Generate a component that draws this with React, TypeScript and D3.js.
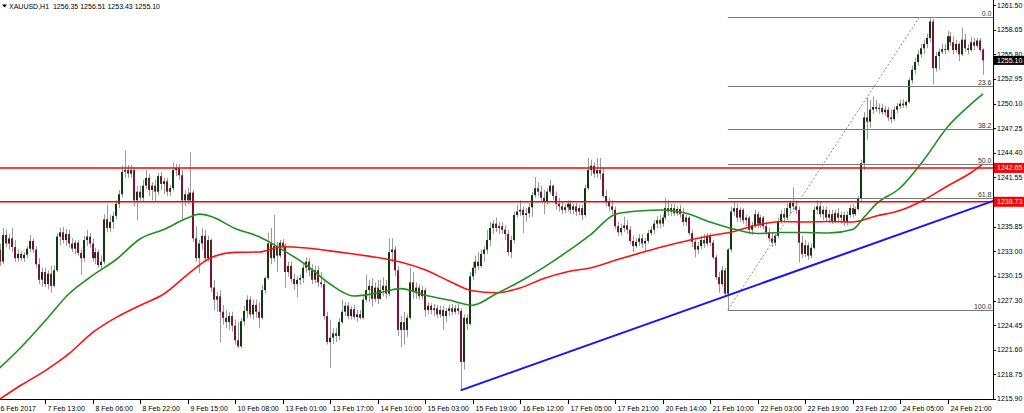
import { useEffect } from "react"
import * as d3 from "d3"

// XAUUSD H1, one label every 16 bars
const timeLabels = [
  "6 Feb 2017", "7 Feb 13:00", "8 Feb 06:00", "8 Feb 22:00", "9 Feb 15:00", "10 Feb 08:00",
  "13 Feb 01:00", "13 Feb 17:00", "14 Feb 10:00", "15 Feb 03:00", "15 Feb 19:00", "16 Feb 12:00",
  "17 Feb 05:00", "17 Feb 21:00", "20 Feb 14:00", "21 Feb 10:00", "22 Feb 03:00", "22 Feb 19:00",
  "23 Feb 12:00", "24 Feb 05:00", "24 Feb 21:00",
]

const priceTicks = [
  1215.9, 1218.75, 1221.6, 1224.45, 1227.3, 1230.15, 1233.0, 1235.85, 1238.7,
  1241.55, 1244.4, 1247.25, 1250.1, 1252.95, 1255.8, 1258.65, 1261.5,
]

// [open, high, low, close]
const candles: number[][] = [
  [1232.6,1233.7,1231.4,1233.2],[1233.2,1233.9,1231.3,1231.8],[1231.8,1235.7,1231.5,1234.9],[1234.9,1235.5,1233.5,1233.9],
  [1233.9,1235.0,1233.2,1234.5],[1234.5,1235.7,1232.9,1233.5],[1233.5,1234.3,1231.8,1232.2],[1232.2,1233.2,1231.8,1232.7],
  [1232.7,1233.0,1231.9,1232.2],[1232.2,1232.9,1231.8,1232.6],[1232.6,1233.6,1232.2,1233.3],[1233.3,1234.9,1232.9,1234.2],
  [1234.2,1234.5,1232.8,1233.2],[1233.2,1233.6,1231.1,1231.5],[1231.5,1232.2,1229.2,1229.7],[1229.7,1231.1,1228.9,1230.6],
  [1230.6,1231.1,1228.9,1229.2],[1229.2,1230.8,1228.6,1230.4],[1230.4,1231.3,1228.2,1229.0],[1229.0,1231.4,1228.8,1230.8],
  [1230.8,1235.1,1230.6,1234.7],[1234.7,1235.7,1233.7,1235.2],[1235.2,1235.8,1233.9,1234.3],[1234.3,1235.6,1233.6,1235.0],
  [1235.0,1235.5,1233.4,1233.9],[1233.9,1234.5,1232.9,1233.3],[1233.3,1234.3,1232.7,1234.0],[1234.0,1234.3,1232.5,1232.8],
  [1232.8,1233.2,1230.3,1232.2],[1232.2,1234.8,1231.8,1234.3],[1234.3,1235.5,1233.6,1234.7],[1234.7,1235.1,1233.4,1233.9],
  [1233.9,1234.5,1231.8,1232.2],[1232.2,1233.4,1231.5,1232.9],[1232.9,1233.2,1231.1,1231.4],[1231.4,1232.5,1230.8,1231.8],
  [1231.8,1237.3,1231.5,1236.7],[1236.7,1238.4,1235.2,1235.7],[1235.7,1237.2,1235.2,1236.4],[1236.4,1237.6,1235.6,1237.1],
  [1237.1,1238.9,1236.7,1238.5],[1238.5,1240.1,1238.0,1239.6],[1239.6,1242.9,1239.2,1242.2],[1242.2,1244.7,1241.5,1242.4],
  [1242.4,1243.0,1241.5,1242.0],[1242.0,1243.0,1241.5,1242.4],[1242.4,1242.6,1238.2,1238.9],[1238.9,1240.6,1236.6,1239.9],
  [1239.9,1240.6,1238.7,1239.2],[1239.2,1241.3,1238.8,1240.6],[1240.6,1242.4,1240.2,1241.5],[1241.5,1242.0,1239.4,1240.1],
  [1240.1,1241.0,1238.9,1240.6],[1240.6,1241.3,1238.7,1239.9],[1239.9,1242.1,1239.5,1241.7],[1241.7,1242.2,1240.1,1240.8],
  [1240.8,1241.5,1239.6,1241.1],[1241.1,1241.5,1239.4,1239.9],[1239.9,1240.7,1239.4,1240.3],[1240.3,1243.3,1240.0,1242.4],
  [1242.4,1243.1,1241.7,1242.6],[1242.6,1243.1,1241.3,1241.8],[1241.8,1242.4,1236.6,1238.9],[1238.9,1240.1,1238.2,1239.6],
  [1239.6,1240.4,1238.5,1238.9],[1238.9,1244.5,1238.6,1239.8],[1239.8,1240.1,1234.1,1234.5],[1234.5,1235.9,1231.8,1232.2],
  [1232.2,1234.3,1230.5,1233.9],[1233.9,1235.7,1233.2,1234.8],[1234.8,1235.5,1231.8,1232.2],[1232.2,1234.8,1231.8,1234.3],
  [1234.3,1234.5,1228.3,1228.8],[1228.8,1229.7,1226.2,1227.4],[1227.4,1228.3,1226.0,1227.8],[1227.8,1228.5,1222.4,1226.0],
  [1226.0,1226.8,1224.5,1225.3],[1225.3,1226.2,1224.1,1224.8],[1224.8,1226.0,1223.9,1225.5],[1225.5,1226.0,1223.7,1224.4],
  [1224.4,1225.1,1222.2,1222.7],[1222.7,1224.8,1221.8,1222.0],[1222.0,1225.3,1221.8,1224.9],[1224.9,1226.7,1224.4,1226.1],
  [1226.1,1227.9,1225.3,1227.4],[1227.4,1227.8,1225.3,1225.7],[1225.7,1227.4,1225.1,1226.8],[1226.8,1227.4,1225.3,1226.0],
  [1226.0,1227.1,1224.1,1225.3],[1225.3,1229.1,1225.1,1228.5],[1228.5,1230.1,1228.1,1229.9],[1229.9,1235.1,1229.7,1233.9],
  [1233.9,1235.7,1231.5,1232.2],[1232.2,1237.2,1231.8,1233.6],[1233.6,1234.1,1230.6,1232.5],[1232.5,1234.3,1232.2,1234.0],
  [1234.0,1234.4,1233.2,1233.6],[1233.6,1233.9,1228.8,1230.6],[1230.6,1231.8,1230.1,1231.3],[1231.3,1231.8,1229.4,1229.8],
  [1229.8,1230.4,1228.5,1229.2],[1229.2,1230.1,1227.7,1229.7],[1229.7,1230.3,1229.1,1229.9],[1229.9,1231.5,1229.3,1231.1],
  [1231.1,1232.3,1230.5,1231.8],[1231.8,1232.2,1230.1,1230.8],[1230.8,1231.5,1229.2,1229.7],[1229.7,1231.3,1229.3,1230.8],
  [1230.8,1231.3,1228.9,1229.4],[1229.4,1230.6,1228.8,1229.2],[1229.2,1229.7,1225.1,1225.5],[1225.5,1226.0,1222.2,1222.5],
  [1222.5,1225.1,1219.5,1223.0],[1223.0,1224.1,1222.3,1223.5],[1223.5,1224.1,1222.5,1223.2],[1223.2,1225.3,1222.7,1224.8],
  [1224.8,1227.4,1224.6,1226.0],[1226.0,1227.1,1225.5,1226.7],[1226.7,1227.1,1225.1,1225.5],[1225.5,1226.7,1225.1,1226.3],
  [1226.3,1226.8,1225.1,1225.4],[1225.4,1226.2,1224.8,1225.7],[1225.7,1226.2,1225.1,1225.3],[1225.3,1227.8,1225.1,1227.4],
  [1227.4,1230.3,1227.1,1228.5],[1228.5,1229.7,1227.1,1229.0],[1229.0,1229.9,1226.6,1227.5],[1227.5,1229.4,1227.1,1228.8],
  [1228.8,1229.7,1226.9,1227.5],[1227.5,1229.7,1227.4,1228.5],[1228.5,1230.0,1227.8,1229.0],[1229.0,1229.7,1227.5,1228.1],
  [1228.1,1234.5,1227.8,1232.9],[1232.9,1234.5,1231.8,1233.2],[1233.2,1233.6,1230.1,1230.8],[1230.8,1231.3,1223.2,1223.9],
  [1223.9,1225.5,1221.9,1224.8],[1224.8,1226.0,1222.2,1223.9],[1223.9,1225.7,1223.1,1225.3],[1225.3,1231.1,1225.1,1229.4],
  [1229.4,1230.6,1227.5,1228.3],[1228.3,1229.4,1227.5,1228.8],[1228.8,1229.2,1227.4,1227.8],[1227.8,1229.0,1227.4,1228.5],
  [1228.5,1228.8,1225.4,1226.2],[1226.2,1227.1,1225.7,1226.7],[1226.7,1227.0,1225.7,1226.2],[1226.2,1226.9,1225.5,1226.4],
  [1226.4,1226.8,1225.3,1225.7],[1225.7,1226.7,1225.3,1226.2],[1226.2,1226.7,1223.9,1225.5],[1225.5,1226.4,1224.8,1226.1],
  [1226.1,1226.8,1225.5,1226.4],[1226.4,1226.9,1225.6,1226.0],[1226.0,1226.8,1225.7,1226.4],[1226.4,1226.9,1225.7,1226.1],
  [1226.1,1226.4,1216.9,1220.2],[1220.2,1225.7,1219.3,1225.3],[1225.3,1225.7,1223.9,1224.6],[1224.6,1230.6,1224.4,1230.1],
  [1230.1,1231.8,1229.7,1231.1],[1231.1,1232.5,1230.4,1231.8],[1231.8,1232.9,1230.8,1231.3],[1231.3,1233.2,1231.1,1232.7],
  [1232.7,1233.6,1231.8,1233.2],[1233.2,1235.5,1232.7,1234.3],[1234.3,1236.4,1233.6,1235.7],[1235.7,1236.6,1235.0,1236.2],
  [1236.2,1236.9,1235.2,1235.7],[1235.7,1236.4,1235.0,1235.9],[1235.9,1236.4,1235.0,1235.5],[1235.5,1236.0,1234.3,1235.0],
  [1235.0,1235.5,1232.5,1232.9],[1232.9,1234.8,1232.2,1234.3],[1234.3,1237.6,1233.9,1237.2],[1237.2,1238.4,1236.9,1237.6],
  [1237.6,1238.9,1237.1,1237.8],[1237.8,1238.2,1235.1,1237.2],[1237.2,1238.0,1236.4,1237.4],[1237.4,1238.6,1236.9,1238.1],
  [1238.1,1239.9,1237.0,1239.5],[1239.5,1241.6,1239.2,1240.3],[1240.3,1241.0,1239.4,1239.9],[1239.9,1240.6,1238.7,1239.2],
  [1239.2,1240.1,1237.3,1238.7],[1238.7,1240.3,1238.4,1239.9],[1239.9,1241.3,1239.6,1240.6],[1240.6,1240.7,1238.9,1239.4],
  [1239.4,1239.9,1237.8,1238.5],[1238.5,1239.2,1237.6,1238.2],[1238.2,1238.7,1237.3,1237.8],[1237.8,1238.5,1237.4,1238.1],
  [1238.1,1238.9,1237.6,1238.5],[1238.5,1238.9,1237.3,1237.8],[1237.8,1238.5,1237.3,1238.2],[1238.2,1238.6,1237.1,1237.6],
  [1237.6,1238.4,1237.2,1238.0],[1238.0,1238.4,1236.6,1237.2],[1237.2,1240.7,1237.0,1240.3],[1240.3,1243.8,1240.1,1242.4],
  [1242.4,1243.6,1241.7,1242.9],[1242.9,1243.3,1241.5,1242.0],[1242.0,1243.8,1241.5,1242.4],[1242.4,1243.8,1241.3,1242.0],
  [1242.0,1242.6,1239.2,1239.4],[1239.4,1240.1,1238.2,1238.7],[1238.7,1239.2,1237.6,1238.2],[1238.2,1238.9,1237.3,1237.8],
  [1237.8,1238.2,1235.6,1235.9],[1235.9,1236.4,1234.8,1235.2],[1235.2,1236.2,1234.8,1235.7],[1235.7,1237.0,1235.2,1236.0],
  [1236.0,1236.6,1235.0,1235.5],[1235.5,1235.9,1233.9,1234.2],[1234.2,1234.8,1232.9,1233.6],[1233.6,1234.5,1233.4,1234.1],
  [1234.1,1235.0,1233.6,1234.5],[1234.5,1235.0,1233.4,1233.9],[1233.9,1234.5,1232.9,1234.2],[1234.2,1235.5,1233.9,1235.1],
  [1235.1,1235.9,1234.8,1235.5],[1235.5,1236.6,1235.0,1236.2],[1236.2,1237.1,1235.7,1236.6],[1236.6,1237.2,1235.7,1236.2],
  [1236.2,1237.3,1235.8,1236.9],[1236.9,1239.2,1236.6,1238.0],[1238.0,1238.9,1237.1,1237.6],[1237.6,1238.5,1237.1,1238.0],
  [1238.0,1238.5,1237.1,1237.4],[1237.4,1238.2,1237.1,1237.9],[1237.9,1238.4,1236.9,1237.3],[1237.3,1238.0,1235.9,1236.4],
  [1236.4,1237.3,1235.9,1236.9],[1236.9,1237.1,1234.8,1235.1],[1235.1,1235.5,1233.5,1234.1],[1234.1,1234.3,1232.3,1233.2],
  [1233.2,1234.1,1232.7,1233.6],[1233.6,1234.8,1233.2,1234.3],[1234.3,1235.0,1233.4,1233.9],[1233.9,1235.1,1233.6,1234.8],
  [1234.8,1235.1,1233.6,1234.0],[1234.0,1234.3,1232.1,1232.3],[1232.3,1232.6,1229.7,1230.0],[1230.0,1230.6,1228.2,1229.2],
  [1229.2,1231.3,1228.9,1230.8],[1230.8,1231.1,1227.7,1228.1],[1228.1,1233.4,1226.2,1233.2],[1233.2,1238.2,1232.9,1237.6],
  [1237.6,1238.7,1237.1,1238.0],[1238.0,1238.5,1236.4,1236.9],[1236.9,1238.1,1236.4,1237.8],[1237.8,1238.0,1236.2,1236.6],
  [1236.6,1237.2,1235.9,1236.9],[1236.9,1237.1,1235.0,1235.5],[1235.5,1236.4,1234.9,1236.0],[1236.0,1237.8,1235.7,1237.3],
  [1237.3,1237.6,1235.7,1236.2],[1236.2,1237.2,1235.7,1236.9],[1236.9,1237.1,1235.6,1235.9],[1235.9,1236.4,1234.9,1235.2],
  [1235.2,1235.7,1234.1,1234.5],[1234.5,1235.2,1233.5,1234.0],[1234.0,1235.0,1233.6,1234.8],[1234.8,1236.9,1234.5,1236.5],
  [1236.5,1237.8,1236.2,1237.3],[1237.3,1238.0,1236.4,1236.9],[1236.9,1238.5,1236.6,1238.0],[1238.0,1238.9,1237.3,1238.6],
  [1238.6,1240.4,1237.8,1238.2],[1238.2,1238.9,1237.3,1237.8],[1237.8,1238.2,1231.7,1234.0],[1234.0,1234.8,1232.2,1232.7],
  [1232.7,1234.3,1232.3,1233.7],[1233.7,1234.0,1232.0,1232.5],[1232.5,1233.9,1232.2,1233.4],[1233.4,1238.2,1233.2,1237.8],
  [1237.8,1238.9,1237.3,1238.2],[1238.2,1238.7,1236.9,1237.3],[1237.3,1238.2,1236.6,1237.8],[1237.8,1238.2,1236.4,1236.9],
  [1236.9,1237.8,1236.2,1237.3],[1237.3,1237.8,1236.2,1236.5],[1236.5,1237.8,1236.3,1237.4],[1237.4,1238.0,1236.4,1236.9],
  [1236.9,1237.6,1236.2,1237.2],[1237.2,1237.6,1235.9,1236.4],[1236.4,1237.6,1236.0,1237.2],[1237.2,1238.4,1236.9,1238.0],
  [1238.0,1238.5,1236.9,1237.3],[1237.3,1238.2,1237.1,1237.9],[1237.9,1239.4,1237.7,1239.1],[1239.1,1243.6,1238.8,1243.2],
  [1243.2,1249.1,1242.4,1248.5],[1248.5,1250.8,1245.9,1248.0],[1248.0,1250.5,1247.3,1249.4],[1249.4,1250.9,1248.9,1249.7],
  [1249.7,1250.5,1249.1,1249.5],[1249.5,1250.1,1248.9,1249.6],[1249.6,1250.1,1248.8,1249.1],[1249.1,1249.8,1248.7,1249.4],
  [1249.4,1249.7,1248.1,1248.5],[1248.5,1249.4,1247.9,1248.3],[1248.3,1249.8,1248.1,1249.4],[1249.4,1250.2,1249.0,1249.8],
  [1249.8,1250.5,1249.5,1250.1],[1250.1,1250.6,1249.6,1249.9],[1249.9,1250.5,1249.6,1250.3],[1250.3,1253.1,1250.1,1252.8],
  [1252.8,1254.5,1252.4,1254.0],[1254.0,1255.4,1253.5,1254.9],[1254.9,1256.3,1254.5,1255.8],[1255.8,1257.0,1255.4,1256.5],
  [1256.5,1257.5,1255.8,1257.0],[1257.0,1258.2,1256.5,1257.7],[1257.7,1260.1,1257.2,1259.6],[1259.6,1259.9,1252.3,1254.2],
  [1254.2,1256.1,1253.8,1255.6],[1255.6,1256.5,1254.0,1256.1],[1256.1,1257.0,1255.8,1256.4],[1256.4,1257.0,1255.8,1256.3],
  [1256.3,1258.5,1256.1,1257.9],[1257.9,1258.4,1256.8,1257.2],[1257.2,1257.9,1255.8,1256.3],[1256.3,1257.5,1256.0,1257.0],
  [1257.0,1257.2,1255.0,1255.8],[1255.8,1258.9,1255.6,1257.5],[1257.5,1258.2,1256.1,1256.5],[1256.5,1257.0,1255.8,1256.3],
  [1256.3,1257.8,1256.1,1257.2],[1257.2,1257.7,1256.3,1256.8],[1256.8,1257.7,1256.5,1257.4],[1257.4,1257.7,1256.1,1256.3],
  [1256.35,1256.51,1253.43,1255.1],
]

// moving averages: [bar index, price]
const maGreen = [
  [0,1219.26],[8,1221.92],[16,1224.93],[24,1228.06],[32,1230.2],[40,1232.05],[48,1234.42],[56,1235.52],
  [64,1236.86],[68,1237.3],[72,1237.03],[80,1235.64],[88,1234.7],[96,1233.17],[104,1231.41],[112,1229.21],
  [120,1227.83],[128,1228.17],[136,1228.68],[144,1227.9],[152,1227.36],[160,1226.76],[168,1228.09],[176,1229.5],
  [184,1231.14],[192,1232.98],[200,1235.0],[208,1237.27],[216,1237.67],[224,1237.78],[232,1237.41],[240,1236.39],
  [248,1235.58],[256,1235.06],[264,1235.18],[272,1235.18],[280,1235.12],[288,1235.53],[292,1236.98],[296,1238.48],
  [304,1240.33],[312,1243.57],[320,1247.39],[328,1250.06],[332,1251.21],
]
const maRed = [
  [0,1215.7],[8,1217.52],[16,1219.16],[24,1221.11],[32,1223.58],[40,1225.35],[48,1226.73],[56,1228.06],
  [64,1230.31],[72,1232.27],[80,1232.87],[88,1232.92],[96,1233.52],[104,1233.38],[112,1233.05],[120,1232.69],
  [128,1232.28],[136,1231.73],[144,1230.86],[152,1229.57],[160,1228.43],[168,1228.2],[176,1228.75],[184,1229.86],
  [192,1230.64],[200,1231.1],[208,1231.95],[216,1232.76],[224,1233.53],[232,1234.2],[240,1234.8],[248,1235.29],
  [256,1236.05],[264,1236.45],[272,1236.39],[280,1236.45],[288,1236.39],[296,1237.09],[304,1237.72],[312,1238.94],
  [320,1240.56],[328,1242.12],[332,1243.11],
]

const levelPrices = [1242.65, 1238.73]
const lastPrice = 1255.1
const fibRatios = [0, 23.6, 38.2, 50, 61.8, 100]
const fibHigh = 1260.09
const fibLow = 1226.2
const fibFrom = 246
const fibTo = 310.5
const trendAnchors = [[156, 1216.9], [246, 1227.9]]
const title = "XAUUSD,H1  1256.35 1256.51 1253.43 1255.10"

const W = 1024
const H = 413
const plotRight = 993
const plotBottom = 399
const font = "'Liberation Sans', Arial, sans-serif"

export default function App() {
  useEffect(() => {
    document.body.style.margin = "0"
  }, [])

  const x = d3.scaleLinear().domain([0, 320]).range([-2.5, 947.5])
  const y = d3.scaleLinear().domain([1215.9, 1261.5]).range([plotBottom, 5.1])
  const fmt = d3.format(".2f")

  const maLine = d3
    .line<number[]>()
    .x((d) => x(d[0]))
    .y((d) => y(d[1]))
    .curve(d3.curveMonotoneX)

  // trend line extended to the right edge
  const [[i0, p0], [i1, p1]] = trendAnchors
  const slope = (p1 - p0) / (i1 - i0)
  const iEnd = x.invert(plotRight + 2)
  const trendEnd = p0 + slope * (iEnd - i0)

  const fibPrice = (r: number) => fibHigh - ((fibHigh - fibLow) * r) / 100

  return (
    <svg
      width={W}
      height={H}
      style={{ position: "absolute", left: 0, top: 0, display: "block", background: "#fff" }}
      fontFamily={font}
    >
      <defs>
        <clipPath id="plot">
          <rect x={0} y={0} width={plotRight} height={plotBottom} />
        </clipPath>
      </defs>

      <g clipPath="url(#plot)">
        {candles.map((c, i) => {
          const [o, h, l, cl] = c
          const cx = Math.round(x(i))
          const top = y(Math.max(o, cl))
          const bot = y(Math.min(o, cl))
          const up = cl >= o
          return (
            <g key={i}>
              <rect x={cx} y={y(h)} width={1} height={Math.max(1, y(l) - y(h))} fill="#9a9a9a" />
              <rect
                x={cx - 1}
                y={top}
                width={2}
                height={Math.max(1, bot - top)}
                fill={up ? "#0c3a0c" : "#7d1232"}
              />
            </g>
          )
        })}

        <path d={maLine(maRed) ?? ""} fill="none" stroke="#ff1010" strokeWidth={1.6} />
        <path d={maLine(maGreen) ?? ""} fill="none" stroke="#1f8f1f" strokeWidth={1.6} />

        {/* fibonacci retracement */}
        {fibRatios.map((r) => (
          <line
            key={r}
            x1={x(fibFrom)}
            x2={plotRight}
            y1={Math.round(y(fibPrice(r))) + 0.5}
            y2={Math.round(y(fibPrice(r))) + 0.5}
            stroke="#7a7a7a"
            strokeWidth={1}
          />
        ))}
        <line
          x1={x(fibFrom)}
          y1={y(fibLow)}
          x2={x(fibTo)}
          y2={y(fibHigh)}
          stroke="#8c8c8c"
          strokeWidth={1}
          strokeDasharray="2,2"
        />

        {levelPrices.map((p) => (
          <line key={p} x1={0} x2={plotRight} y1={y(p)} y2={y(p)} stroke="#ff0000" strokeWidth={1.6} />
        ))}

        <line x1={x(i0)} y1={y(p0)} x2={x(iEnd)} y2={y(trendEnd)} stroke="#1414ff" strokeWidth={2} />
      </g>

      {fibRatios.map((r) => (
        <text
          key={r}
          x={991.5}
          y={Math.round(y(fibPrice(r))) - 1.5}
          textAnchor="end"
          fontSize={7}
          fill="#333"
        >
          {r.toFixed(1)}
        </text>
      ))}

      {/* axes */}
      <line x1={plotRight + 0.5} x2={plotRight + 0.5} y1={0} y2={plotBottom + 0.5} stroke="#000" />
      <line x1={0} x2={plotRight + 0.5} y1={plotBottom + 0.5} y2={plotBottom + 0.5} stroke="#000" />

      {priceTicks.map((p) => (
        <g key={p}>
          <line x1={plotRight} x2={plotRight + 3} y1={Math.round(y(p)) + 0.5} y2={Math.round(y(p)) + 0.5} stroke="#000" />
          <text x={997} y={y(p)} dy="0.35em" fontSize={7} fill="#000">
            {fmt(p)}
          </text>
        </g>
      ))}

      {timeLabels.map((t, k) => {
        const tx = Math.round(x(k * 16)) + 0.5
        return (
          <g key={t}>
            <line x1={tx} x2={tx} y1={plotBottom} y2={plotBottom + 5} stroke="#000" />
            <text x={tx + 2} y={410.5} fontSize={7} fill="#000">
              {t}
            </text>
          </g>
        )
      })}

      {/* price labels on the scale */}
      {levelPrices.map((p) => (
        <g key={p}>
          <rect x={plotRight + 1} y={y(p) - 5} width={W - plotRight - 1} height={10} fill="#ff0000" />
          <text x={997} y={y(p)} dy="0.35em" fontSize={7} fill="#fff">
            {fmt(p)}
          </text>
        </g>
      ))}
      <rect x={plotRight + 1} y={y(lastPrice) - 4.5} width={W - plotRight - 1} height={9} fill="#000" />
      <text x={997} y={y(lastPrice)} dy="0.35em" fontSize={7} fill="#fff">
        {fmt(lastPrice)}
      </text>

      {/* header */}
      <path d="M2,4.5 L7,4.5 L4.5,7.5 Z" fill="#000" />
      <text x={9} y={9} fontSize={7} fill="#000" style={{ whiteSpace: "pre" }}>
        {title}
      </text>
    </svg>
  )
}
